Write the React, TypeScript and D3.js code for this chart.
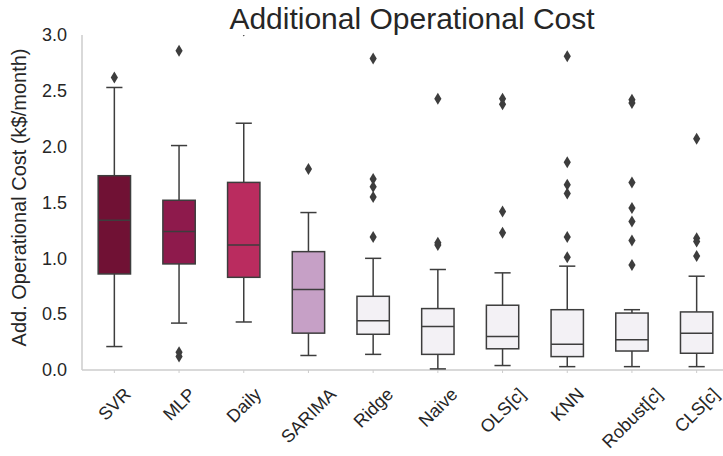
import { useEffect, useRef } from "react"
import * as d3 from "d3"

// Models on the x axis
const models = ["SVR", "MLP", "Daily", "SARIMA", "Ridge", "Naive", "OLS[c]", "KNN", "Robust[c]", "CLS[c]"]

// Box statistics (k$/month)
const whiskerLow = [0.21, 0.42, 0.43, 0.13, 0.14, 0.01, 0.04, 0.03, 0.03, 0.03]
const q1 = [0.86, 0.95, 0.83, 0.33, 0.32, 0.14, 0.19, 0.12, 0.17, 0.15]
const median = [1.34, 1.24, 1.12, 0.72, 0.44, 0.39, 0.3, 0.23, 0.27, 0.33]
const q3 = [1.74, 1.52, 1.68, 1.06, 0.66, 0.55, 0.58, 0.54, 0.51, 0.52]
const whiskerHigh = [2.53, 2.01, 2.21, 1.41, 1.0, 0.9, 0.87, 0.93, 0.54, 0.84]

// Outliers per model
const outliers = [
  [2.62],
  [2.86, 0.16, 0.12],
  [3.04],
  [1.8],
  [2.79, 1.71, 1.64, 1.55, 1.19],
  [2.43, 1.14, 1.12],
  [2.43, 2.38, 1.42, 1.23],
  [2.81, 1.86, 1.66, 1.58, 1.19, 1.01],
  [2.42, 2.39, 1.68, 1.45, 1.33, 1.16, 0.94],
  [2.07, 1.18, 1.15, 1.02],
]

const boxColors = ["#701134", "#8e1a4c", "#ba2c5f", "#c6a0c6", "#f3f1f5", "#f3f1f5", "#f3f1f5", "#f3f1f5", "#f3f1f5", "#f3f1f5"]

const yTicks = [0, 0.5, 1, 1.5, 2, 2.5, 3]

export default function App() {
  const svgRef = useRef<SVGSVGElement>(null)

  useEffect(() => {
    if (!svgRef.current) return
    const svg = d3.select(svgRef.current)
    svg.selectAll("*").remove()

    const font = "'Liberation Sans', Arial, sans-serif"
    const left = 82
    const right = 729
    const top = 35
    const bottom = 370
    const edge = "#3d3d3d"
    const textColor = "#262626"

    const x = d3.scaleBand<string>().domain(models).range([left, right]).padding(0)
    const y = d3.scaleLinear().domain([0, 3]).range([bottom, top])
    const boxW = x.bandwidth() * 0.5

    svg
      .append("defs")
      .append("clipPath")
      .attr("id", "plot-clip")
      .append("rect")
      .attr("x", left)
      .attr("y", top)
      .attr("width", right - left)
      .attr("height", bottom - top)

    // Spines
    svg
      .append("line")
      .attr("x1", left)
      .attr("x2", left)
      .attr("y1", top)
      .attr("y2", bottom)
      .attr("stroke", "#cccccc")
      .attr("stroke-width", 1.5)
    svg
      .append("line")
      .attr("x1", left)
      .attr("x2", right)
      .attr("y1", bottom)
      .attr("y2", bottom)
      .attr("stroke", "#cccccc")
      .attr("stroke-width", 1.5)

    // Bottom tick marks
    svg
      .selectAll(".xtick")
      .data(models)
      .enter()
      .append("line")
      .attr("x1", (d) => (x(d) as number) + x.bandwidth() / 2)
      .attr("x2", (d) => (x(d) as number) + x.bandwidth() / 2)
      .attr("y1", bottom)
      .attr("y2", bottom + 3)
      .attr("stroke", "#cccccc")
      .attr("stroke-width", 1)

    // Y tick labels
    svg
      .selectAll(".ylab")
      .data(yTicks)
      .enter()
      .append("text")
      .attr("x", left - 15)
      .attr("y", (d) => y(d))
      .attr("dy", "0.35em")
      .attr("text-anchor", "end")
      .style("font-family", font)
      .style("font-size", "18px")
      .style("fill", textColor)
      .text((d) => d.toFixed(1))

    // Y axis label
    svg
      .append("text")
      .attr("transform", `translate(26,${(top + bottom) / 2 - 5}) rotate(-90)`)
      .attr("text-anchor", "middle")
      .style("font-family", font)
      .style("font-size", "20px")
      .style("fill", textColor)
      .text("Add. Operational Cost (k$/month)")

    // X tick labels, rotated 45 degrees and centred on the tick
    const xl = svg
      .selectAll(".xlab")
      .data(models)
      .enter()
      .append("text")
      .attr("text-anchor", "middle")
      .attr("dy", "0.35em")
      .style("font-family", font)
      .style("font-size", "18px")
      .style("fill", textColor)
      .text((d) => d)
    xl.attr("transform", function (d) {
      const w = (this as SVGTextElement).getComputedTextLength()
      const h = 14
      const half = ((w + h) * Math.SQRT1_2) / 2
      const cx = (x(d) as number) + x.bandwidth() / 2
      const cy = bottom + 16 + half
      return `translate(${cx},${cy}) rotate(-45)`
    })

    // Title
    svg
      .append("text")
      .attr("x", 412)
      .attr("y", 29)
      .attr("text-anchor", "middle")
      .style("font-family", font)
      .style("font-size", "30px")
      .style("fill", textColor)
      .text("Additional Operational Cost")

    const g = svg.append("g").attr("clip-path", "url(#plot-clip)")

    models.forEach((m, i) => {
      const cx = (x(m) as number) + x.bandwidth() / 2

      // Whiskers
      g.append("line")
        .attr("x1", cx)
        .attr("x2", cx)
        .attr("y1", y(q3[i]))
        .attr("y2", y(whiskerHigh[i]))
        .attr("stroke", edge)
        .attr("stroke-width", 1.5)
      g.append("line")
        .attr("x1", cx)
        .attr("x2", cx)
        .attr("y1", y(q1[i]))
        .attr("y2", y(whiskerLow[i]))
        .attr("stroke", edge)
        .attr("stroke-width", 1.5)

      // Caps
      ;[whiskerHigh[i], whiskerLow[i]].forEach((v) => {
        g.append("line")
          .attr("x1", cx - boxW / 4)
          .attr("x2", cx + boxW / 4)
          .attr("y1", y(v))
          .attr("y2", y(v))
          .attr("stroke", edge)
          .attr("stroke-width", 1.5)
      })

      // Box
      g.append("rect")
        .attr("x", cx - boxW / 2)
        .attr("width", boxW)
        .attr("y", y(q3[i]))
        .attr("height", y(q1[i]) - y(q3[i]))
        .attr("fill", boxColors[i])
        .attr("stroke", edge)
        .attr("stroke-width", 1.5)

      // Median
      g.append("line")
        .attr("x1", cx - boxW / 2)
        .attr("x2", cx + boxW / 2)
        .attr("y1", y(median[i]))
        .attr("y2", y(median[i]))
        .attr("stroke", edge)
        .attr("stroke-width", 1.5)

      // Outliers as thin diamonds
      g.selectAll(`.out-${i}`)
        .data(outliers[i])
        .enter()
        .append("path")
        .attr("transform", (v) => `translate(${cx},${y(v)})`)
        .attr("d", "M0,-6L3.6,0L0,6L-3.6,0Z")
        .attr("fill", edge)
    })
  }, [])

  return (
    <svg
      ref={svgRef}
      width={723}
      height={456}
      style={{ position: "absolute", left: 0, top: 0, background: "#ffffff" }}
    ></svg>
  )
}
